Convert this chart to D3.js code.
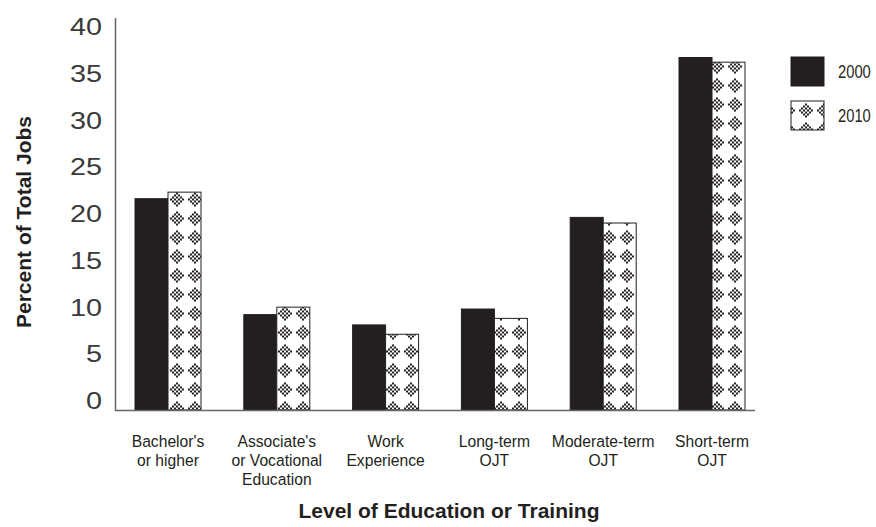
<!DOCTYPE html>
<html>
<head>
<meta charset="utf-8">
<script src="https://cdn.jsdelivr.net/npm/d3@7"></script>
<style>
  body { margin: 0; background: #fff; }
  svg { display: block; }
</style>
</head>
<body>
<div id="chart"></div>
<script>
// data
const categories = [
  ["Bachelor's", "or higher"],
  ["Associate's", "or Vocational", "Education"],
  ["Work", "Experience"],
  ["Long-term", "OJT"],
  ["Moderate-term", "OJT"],
  ["Short-term", "OJT"]
];
const years = ["2000", "2010"];
const values2000 = [22.6, 10.2, 9.1, 10.8, 20.6, 37.7];
const values2010 = [23.3, 11.0, 8.1, 9.8, 20.0, 37.2];
const yTicks = [0, 5, 10, 15, 20, 25, 30, 35, 40];

const width = 876, height = 527;
const ink = '#231f20';
const sans = '"Liberation Sans", Arial, sans-serif';
const squeeze = 0.95; // slightly condensed look for the small labels

const svg = d3.select('#chart')
  .append('svg')
  .attr('width', width)
  .attr('height', height);

// diamond pattern for 2010
const tileW = 18, tileH = 19;
const pat = svg.append('defs')
  .append('pattern')
  .attr('id', 'diamonds')
  .attr('patternUnits', 'userSpaceOnUse')
  .attr('width', tileW)
  .attr('height', tileH)
  .attr('x', 168)
  .attr('y', 0);
pat.append('rect').attr('width', tileW).attr('height', tileH).attr('fill', '#fff');
const cells = [];
for (let dx = -3; dx <= 3; dx++) {
  for (let dy = -3; dy <= 3; dy++) {
    const d = Math.abs(dx) + Math.abs(dy);
    if (d === 1 || d === 3) cells.push([dx, dy]);
  }
}
pat.selectAll('rect.c')
  .data(cells)
  .enter()
  .append('rect')
  .attr('class', 'c')
  .attr('x', d => tileW / 2 - 1 + d[0] * 2)
  .attr('y', d => tileH / 2 - 1 + d[1] * 2)
  .attr('width', 2)
  .attr('height', 2)
  .attr('fill', ink);

// scales
const x0 = d3.scalePoint()
  .domain(d3.range(categories.length))
  .range([168, 712]);
const x1 = d3.scaleBand()
  .domain(years)
  .range([-33, 33]);
const y = d3.scaleLinear()
  .domain([0, 40])
  .range([410, 36]);

// bars
const series = [
  { year: '2000', values: values2000, fill: ink },
  { year: '2010', values: values2010, fill: 'url(#diamonds)' }
];
series.forEach(s => {
  svg.append('g')
    .attr('class', 'series-' + s.year)
    .selectAll('rect')
    .data(s.values)
    .enter()
    .append('rect')
    .attr('x', (d, i) => x0(i) + x1(s.year))
    .attr('y', d => y(d))
    .attr('width', x1.bandwidth())
    .attr('height', d => y(0) - y(d))
    .attr('fill', s.fill)
    .attr('stroke', ink)
    .attr('stroke-width', 1);
});

// axis lines
svg.append('path')
  .attr('d', `M115.5,18 V${y(0) + 0.5} H755`)
  .attr('fill', 'none')
  .attr('stroke', '#666')
  .attr('stroke-width', 1.5);

// y tick labels (baseline sits on the value), wide and light
svg.append('g')
  .selectAll('g')
  .data(yTicks)
  .enter()
  .append('g')
  .attr('transform', d => `translate(102,${y(d) - 1}) scale(1.2,1)`)
  .append('text')
  .attr('text-anchor', 'end')
  .attr('font-family', sans)
  .attr('font-size', 24)
  .attr('fill', '#3a3a3a')
  .text(d => d);

// category labels
const catText = svg.append('g')
  .selectAll('g')
  .data(categories)
  .enter()
  .append('g')
  .attr('transform', (d, i) => `translate(${x0(i)},447) scale(${squeeze},1)`)
  .append('text')
  .attr('text-anchor', 'middle')
  .attr('font-family', sans)
  .attr('font-size', 16.5)
  .attr('fill', ink);
catText.selectAll('tspan')
  .data(d => d)
  .enter()
  .append('tspan')
  .attr('x', 0)
  .attr('dy', (d, i) => i === 0 ? 0 : 19)
  .text(d => d);

// axis titles
svg.append('text')
  .attr('transform', 'translate(31,222) rotate(-90)')
  .attr('text-anchor', 'middle')
  .attr('font-family', sans)
  .attr('font-weight', 'bold')
  .attr('font-size', 21)
  .attr('fill', ink)
  .text('Percent of Total Jobs');

svg.append('text')
  .attr('x', 449)
  .attr('y', 518)
  .attr('text-anchor', 'middle')
  .attr('font-family', sans)
  .attr('font-weight', 'bold')
  .attr('font-size', 21)
  .attr('fill', ink)
  .text('Level of Education or Training');

// legend
const legend = svg.append('g')
  .selectAll('g')
  .data(series)
  .enter()
  .append('g')
  .attr('transform', (d, i) => `translate(791,${57 + i * 44})`);
legend.append('rect')
  .attr('width', 33)
  .attr('height', 29)
  .attr('fill', d => d.fill)
  .attr('stroke', ink)
  .attr('stroke-width', 1);
legend.append('g')
  .attr('transform', `translate(47,21) scale(0.82,1)`)
  .append('text')
  .attr('font-family', sans)
  .attr('font-size', 18)
  .attr('fill', ink)
  .text(d => d.year);
</script>
</body>
</html>
